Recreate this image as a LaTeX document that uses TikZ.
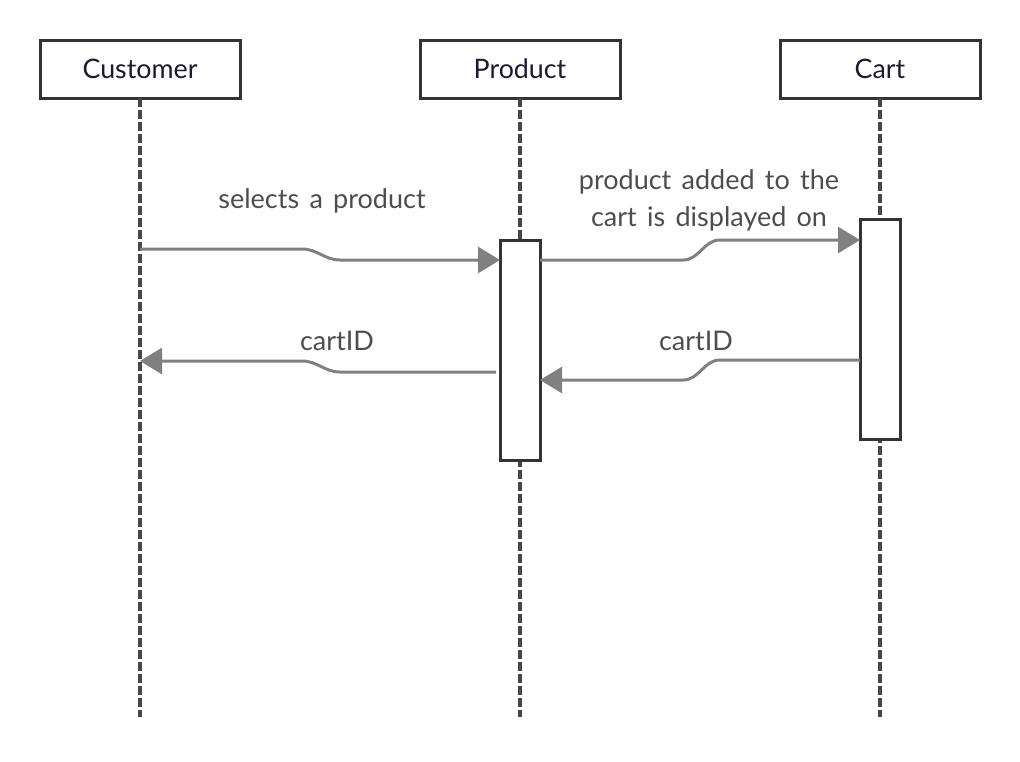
\documentclass[tikz,border=0pt]{standalone}
\usepackage{fontspec}
\setmainfont{Lato}
\usetikzlibrary{arrows.meta, positioning}
\definecolor{boxline}{HTML}{333333}
\definecolor{msgline}{HTML}{808080}
\definecolor{msgtext}{HTML}{4D4D4D}
\definecolor{headtext}{HTML}{1A1A33}
\newcommand{\widewords}{\spaceskip=0.38em\relax}

\begin{document}
\begin{tikzpicture}[x=0.5pt, y=-0.5pt, node distance = 90pt,
    actor/.style = {draw=boxline, line width=1.5pt, fill=white, minimum width=100pt,
                    minimum height=29pt, outer sep=0pt, text=headtext,
                    font=\fontsize{13.4}{15}\selectfont},
    activation/.style = {draw=boxline, line width=1.5pt, fill=white, minimum width=20pt,
                         minimum height=110pt, outer sep=0pt},
    lifeline/.style = {boxline!90!white, line width=1.6pt, dash pattern=on 4.6pt off 1.4pt},
    msg/.style = {msgline, line width=1.5pt, -{Triangle[length=11pt, width=13pt]}},
    msglabel/.style = {text=msgtext, font=\fontsize{13.5}{18.5}\selectfont,
                       execute at begin node=\widewords, align=center}]
    \useasboundingbox (0,0) rectangle (1020,761);

    \node[actor] (customer) at (140,69)         {Customer};
    \node[actor] (product)  [right = of customer] {Product};
    \node[actor] (cart)     [right = 80pt of product] {Cart};

    % lifelines
    \coordinate (customer end) at (140,717);
    \coordinate (product end)  at (520,717);
    \coordinate (cart end)     at (880,717);
    \draw[lifeline] (customer.south) -- (customer end);
    \draw[lifeline] (product.south)  -- (product end);
    \draw[lifeline] (cart.south)     -- (cart end);

    % activation bars
    \node[activation] (product bar) at (520,350) {};
    \node[activation] (cart bar)    at (880,329) {};

    % messages
    \coordinate (m1 start) at (140,249);
    \coordinate (m1 end)   at (500,260);
    \coordinate (m2 start) at (540,260);
    \coordinate (m2 end)   at (860,240);
    \coordinate (m3 start) at (860,360);
    \coordinate (m3 end)   at (540,380);
    \coordinate (m4 start) at (496,372);
    \coordinate (m4 end)   at (140,361);

    \draw[msg] (m1 start) -- ++(162,0) to[out=0, in=180] ++(38,11) -- (m1 end);
    \draw[msg] (m2 start) -- ++(143,0) to[out=0, in=180] ++(37,-20) -- (m2 end);
    \draw[msg] (m3 start) -- ++(-140,0) to[out=180, in=0] ++(-37,20) -- (m3 end);
    \draw[msg] (m4 start) -- ++(-156,0) to[out=180, in=0] ++(-38,-11) -- (m4 end);

    \node[msglabel] (m1 label) at (322,201) {selects a product};
    \node[msglabel] (m2 label) at (709,200) {product added to the\\cart is displayed on};
    \node[msglabel] (m3 label) at (696,341) {cartID};
    \node[msglabel] (m4 label) at (337,341) {cartID};
\end{tikzpicture}
\end{document}
